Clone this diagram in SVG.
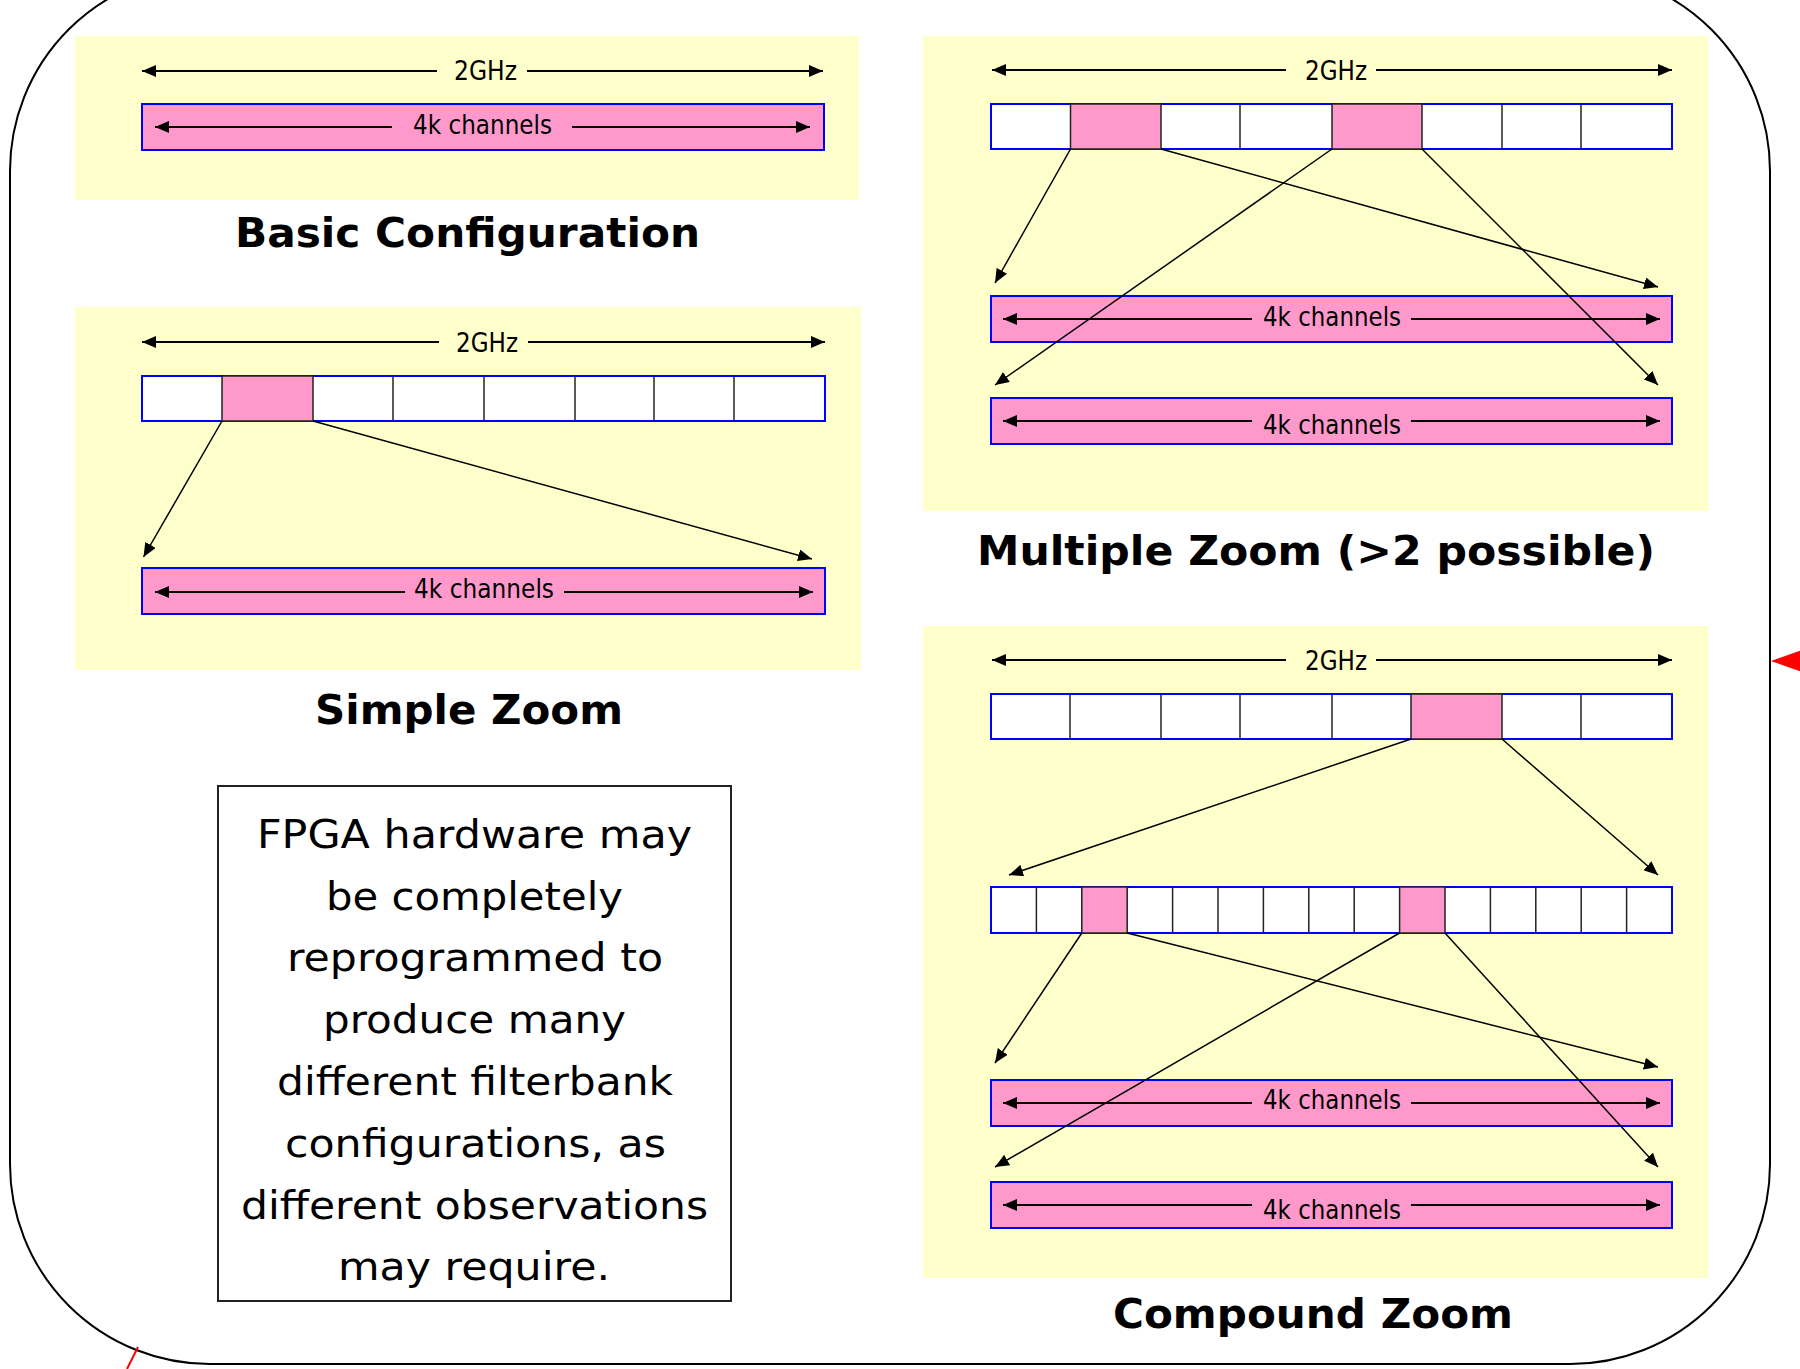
<svg xmlns="http://www.w3.org/2000/svg" width="1800" height="1369" viewBox="0 0 1800 1369">
<style>
.panel{fill:#FFFFCC;stroke:none}
.bar{fill:#FFFFFF;stroke:#0000FF;stroke-width:2}
.pbar{fill:#FF99CC;stroke:#0000FF;stroke-width:2}
.pcell{fill:#FF99CC;stroke:#222;stroke-width:1.5}
.div{stroke:#222;stroke-width:1.5}
.dim{stroke:#000;stroke-width:2;fill:none}
.zoom{stroke:#000;stroke-width:1.5;fill:none;marker-end:url(#ah)}
.lbl{font-family:"DejaVu Sans",Verdana,sans-serif;font-size:27px;fill:#000}
.ttl{font-family:"DejaVu Sans",Verdana,sans-serif;font-size:41px;font-weight:bold;fill:#000}
.note{font-family:"DejaVu Sans",Verdana,sans-serif;font-size:39px;fill:#000}
</style>
<defs>
<marker id="ah" viewBox="0 0 14 12" refX="14" refY="6" markerWidth="14" markerHeight="12" markerUnits="userSpaceOnUse" orient="auto-start-reverse"><path d="M0,0 L14,6 L0,12 z" fill="#000"/></marker>
</defs>
<rect width="1800" height="1369" fill="#FFFFFF"/>
<g id="frame">
<rect x="10" y="-29" width="1760" height="1393" rx="200" ry="200" fill="none" stroke="#000" stroke-width="2"/>
<line x1="138" y1="1347" x2="127" y2="1369" stroke="#FF0000" stroke-width="2"/>
<polygon points="1771,661 1802,650 1802,672" fill="#FF0000"/>
</g>

<g id="basic">
<rect class="panel" x="75" y="36" width="784" height="164"/>
<line class="dim" x1="142" y1="71" x2="437" y2="71" marker-start="url(#ah)"/>
<line class="dim" x1="527" y1="71" x2="823" y2="71" marker-end="url(#ah)"/>
<text class="lbl" x="454" y="80" textLength="63" lengthAdjust="spacingAndGlyphs">2GHz</text>
<rect class="pbar" x="142" y="104" width="682" height="46"/>
<line class="dim" x1="155" y1="127" x2="392" y2="127" marker-start="url(#ah)"/>
<line class="dim" x1="572" y1="127" x2="810" y2="127" marker-end="url(#ah)"/>
<text class="lbl" x="413" y="134" textLength="139" lengthAdjust="spacingAndGlyphs">4k channels</text>
<text class="ttl" x="235" y="247" textLength="465" lengthAdjust="spacingAndGlyphs">Basic Configuration</text>
</g>

<g id="simple">
<rect class="panel" x="75" y="307" width="786" height="363"/>
<line class="dim" x1="142" y1="342" x2="439" y2="342" marker-start="url(#ah)"/>
<line class="dim" x1="528" y1="342" x2="825" y2="342" marker-end="url(#ah)"/>
<text class="lbl" x="456" y="352" textLength="62" lengthAdjust="spacingAndGlyphs">2GHz</text>
<rect class="bar" x="142" y="376" width="683" height="45"/>
<rect class="pcell" x="222" y="376" width="91" height="45"/>
<line class="div" x1="393" y1="376" x2="393" y2="421"/>
<line class="div" x1="484" y1="376" x2="484" y2="421"/>
<line class="div" x1="575" y1="376" x2="575" y2="421"/>
<line class="div" x1="654" y1="376" x2="654" y2="421"/>
<line class="div" x1="734" y1="376" x2="734" y2="421"/>
<rect class="pbar" x="142" y="568" width="683" height="46"/>
<line class="dim" x1="155" y1="592" x2="405" y2="592" marker-start="url(#ah)"/>
<line class="dim" x1="564" y1="592" x2="813" y2="592" marker-end="url(#ah)"/>
<text class="lbl" x="414" y="598" textLength="140" lengthAdjust="spacingAndGlyphs">4k channels</text>
<text class="ttl" x="315" y="724" textLength="308" lengthAdjust="spacingAndGlyphs">Simple Zoom</text>
</g>

<g id="multiple">
<rect class="panel" x="923" y="36" width="785" height="475"/>
<line class="dim" x1="992" y1="70" x2="1286" y2="70" marker-start="url(#ah)"/>
<line class="dim" x1="1376" y1="70" x2="1672" y2="70" marker-end="url(#ah)"/>
<text class="lbl" x="1305" y="80" textLength="62" lengthAdjust="spacingAndGlyphs">2GHz</text>
<rect class="bar" x="991" y="104" width="681" height="45"/>
<rect class="pcell" x="1070.5" y="104" width="90.5" height="45"/>
<rect class="pcell" x="1332" y="104" width="90" height="45"/>
<line class="div" x1="1240" y1="104" x2="1240" y2="149"/>
<line class="div" x1="1502" y1="104" x2="1502" y2="149"/>
<line class="div" x1="1581" y1="104" x2="1581" y2="149"/>
<rect class="pbar" x="991" y="296" width="681" height="46"/>
<line class="dim" x1="1003" y1="319" x2="1252" y2="319" marker-start="url(#ah)"/>
<line class="dim" x1="1411" y1="319" x2="1660" y2="319" marker-end="url(#ah)"/>
<text class="lbl" x="1263" y="326" textLength="138" lengthAdjust="spacingAndGlyphs">4k channels</text>
<rect class="pbar" x="991" y="398" width="681" height="46"/>
<line class="dim" x1="1003" y1="421" x2="1252" y2="421" marker-start="url(#ah)"/>
<line class="dim" x1="1411" y1="421" x2="1660" y2="421" marker-end="url(#ah)"/>
<text class="lbl" x="1263" y="434" textLength="138" lengthAdjust="spacingAndGlyphs">4k channels</text>
<text class="ttl" x="977" y="565" textLength="678" lengthAdjust="spacingAndGlyphs">Multiple Zoom (&gt;2 possible)</text>
</g>

<g id="compound">
<rect class="panel" x="923" y="626" width="785" height="652"/>
<line class="dim" x1="992" y1="660" x2="1286" y2="660" marker-start="url(#ah)"/>
<line class="dim" x1="1376" y1="660" x2="1672" y2="660" marker-end="url(#ah)"/>
<text class="lbl" x="1305" y="670" textLength="62" lengthAdjust="spacingAndGlyphs">2GHz</text>
<rect class="bar" x="991" y="694" width="681" height="45"/>
<rect class="pcell" x="1411" y="694" width="91" height="45"/>
<line class="div" x1="1070" y1="694" x2="1070" y2="739"/>
<line class="div" x1="1161" y1="694" x2="1161" y2="739"/>
<line class="div" x1="1240" y1="694" x2="1240" y2="739"/>
<line class="div" x1="1332" y1="694" x2="1332" y2="739"/>
<line class="div" x1="1581" y1="694" x2="1581" y2="739"/>
<rect class="bar" x="991" y="887" width="681" height="46"/>
<rect class="pcell" x="1081.8" y="887" width="45.4" height="46"/>
<rect class="pcell" x="1399.6" y="887" width="45.4" height="46"/>
<line class="div" x1="1036.4" y1="887" x2="1036.4" y2="933"/>
<line class="div" x1="1172.6" y1="887" x2="1172.6" y2="933"/>
<line class="div" x1="1218" y1="887" x2="1218" y2="933"/>
<line class="div" x1="1263.4" y1="887" x2="1263.4" y2="933"/>
<line class="div" x1="1308.8" y1="887" x2="1308.8" y2="933"/>
<line class="div" x1="1354.2" y1="887" x2="1354.2" y2="933"/>
<line class="div" x1="1490.4" y1="887" x2="1490.4" y2="933"/>
<line class="div" x1="1535.8" y1="887" x2="1535.8" y2="933"/>
<line class="div" x1="1581.2" y1="887" x2="1581.2" y2="933"/>
<line class="div" x1="1626.6" y1="887" x2="1626.6" y2="933"/>
<rect class="pbar" x="991" y="1080" width="681" height="46"/>
<line class="dim" x1="1003" y1="1103" x2="1252" y2="1103" marker-start="url(#ah)"/>
<line class="dim" x1="1411" y1="1103" x2="1660" y2="1103" marker-end="url(#ah)"/>
<text class="lbl" x="1263" y="1109" textLength="138" lengthAdjust="spacingAndGlyphs">4k channels</text>
<rect class="pbar" x="991" y="1182" width="681" height="46"/>
<line class="dim" x1="1003" y1="1205" x2="1252" y2="1205" marker-start="url(#ah)"/>
<line class="dim" x1="1411" y1="1205" x2="1660" y2="1205" marker-end="url(#ah)"/>
<text class="lbl" x="1263" y="1219" textLength="138" lengthAdjust="spacingAndGlyphs">4k channels</text>
<text class="ttl" x="1113" y="1328" textLength="400" lengthAdjust="spacingAndGlyphs">Compound Zoom</text>
</g>

<g id="note">
<rect x="218" y="786" width="513" height="515" fill="#FFFFFF" stroke="#222" stroke-width="2"/>
<text class="note" x="257" y="848" textLength="435" lengthAdjust="spacingAndGlyphs">FPGA hardware may</text>
<text class="note" x="326" y="910" textLength="297" lengthAdjust="spacingAndGlyphs">be completely</text>
<text class="note" x="287" y="971" textLength="376" lengthAdjust="spacingAndGlyphs">reprogrammed to</text>
<text class="note" x="323" y="1033" textLength="303" lengthAdjust="spacingAndGlyphs">produce many</text>
<text class="note" x="277" y="1095" textLength="396" lengthAdjust="spacingAndGlyphs">different filterbank</text>
<text class="note" x="285" y="1157" textLength="381" lengthAdjust="spacingAndGlyphs">configurations, as</text>
<text class="note" x="241" y="1219" textLength="467" lengthAdjust="spacingAndGlyphs">different observations</text>
<text class="note" x="338" y="1280" textLength="272" lengthAdjust="spacingAndGlyphs">may require.</text>
</g>

<g id="connectors">
<line class="zoom" x1="222" y1="421" x2="143.5" y2="557"/>
<line class="zoom" x1="313" y1="421" x2="812" y2="559"/>
<line class="zoom" x1="1070.5" y1="149" x2="995" y2="283"/>
<line class="zoom" x1="1161" y1="149" x2="1658" y2="287"/>
<line class="zoom" x1="1332" y1="149" x2="995" y2="385"/>
<line class="zoom" x1="1422" y1="149" x2="1658" y2="385"/>
<line class="zoom" x1="1411" y1="739" x2="1009" y2="875"/>
<line class="zoom" x1="1502" y1="739" x2="1658" y2="875"/>
<line class="zoom" x1="1081.8" y1="933" x2="995" y2="1063"/>
<line class="zoom" x1="1127.2" y1="933" x2="1658" y2="1067"/>
<line class="zoom" x1="1399.6" y1="933" x2="995" y2="1167"/>
<line class="zoom" x1="1445" y1="933" x2="1658" y2="1167"/>
</g>
</svg>
